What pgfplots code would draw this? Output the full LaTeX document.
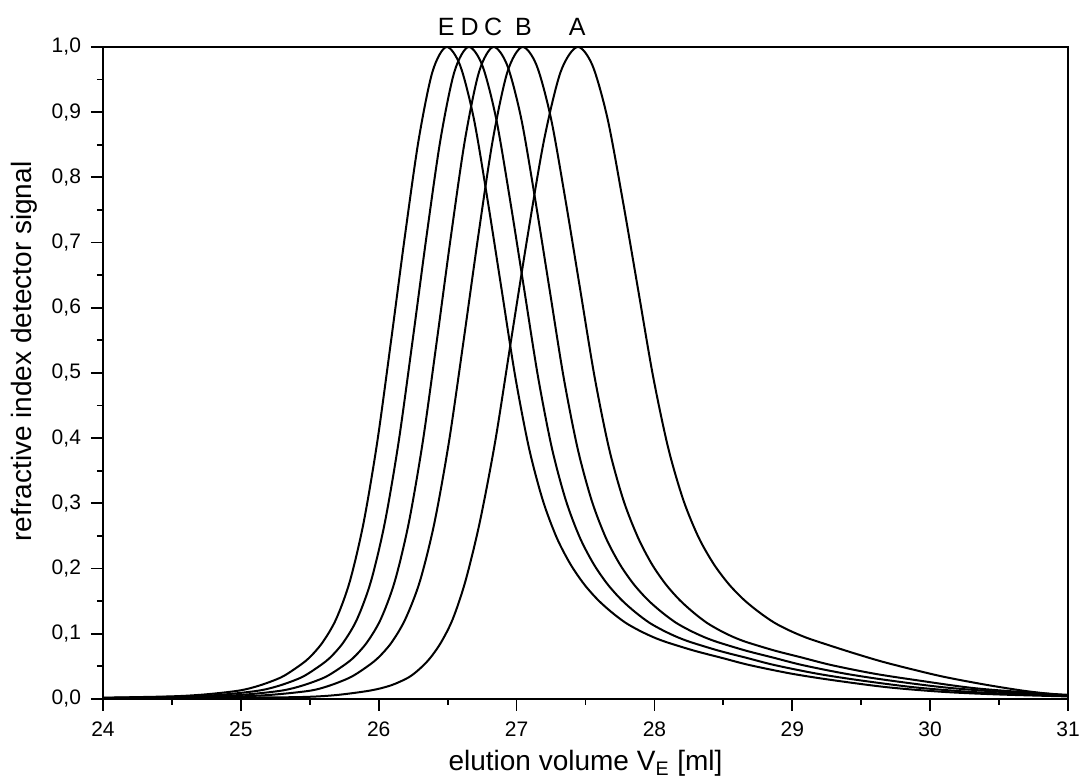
\documentclass[border=0pt]{standalone}
\usepackage{fontspec}
\setmainfont{Liberation Sans}
\usepackage{pgfplots}
\usepackage{pgfplotstable}
\pgfplotsset{compat=1.18}
\tikzset{curve/.style={black, line width=1pt, smooth, mark=none},
  xtl/.style={font=\fontsize{10.5}{12}\selectfont, anchor=base, yshift=-19pt},
  pkl/.style={font=\fontsize{12.5}{15}\selectfont, anchor=base, yshift=5.5pt}}

\pgfplotstableread{
x y
23.49 0.001
23.99 0.002
24.49 0.004
24.74 0.007
24.99 0.013
25.14 0.021
25.29 0.033
25.39 0.046
25.49 0.062
25.59 0.086
25.69 0.122
25.79 0.180
25.89 0.270
25.99 0.395
26.09 0.550
26.19 0.710
26.29 0.858
26.39 0.962
26.49 1.000
26.59 0.972
26.69 0.890
26.79 0.765
26.89 0.630
26.99 0.495
27.09 0.385
27.19 0.305
27.29 0.248
27.39 0.207
27.49 0.176
27.59 0.152
27.69 0.133
27.79 0.117
27.89 0.105
27.99 0.095
28.09 0.087
28.29 0.074
28.49 0.063
28.69 0.052
28.99 0.039
29.29 0.029
29.69 0.018
30.09 0.011
30.49 0.007
30.99 0.004
31.49 0.002
}\curveE

\pgfplotstableread{
x y
23.620 0.001
24.125 0.002
24.630 0.004
24.883 0.007
25.135 0.013
25.287 0.021
25.438 0.033
25.539 0.046
25.640 0.062
25.741 0.086
25.842 0.122
25.943 0.180
26.044 0.270
26.145 0.395
26.246 0.550
26.347 0.710
26.448 0.858
26.549 0.962
26.650 1.000
26.751 0.972
26.852 0.890
26.953 0.765
27.054 0.630
27.155 0.495
27.256 0.385
27.357 0.305
27.458 0.248
27.559 0.207
27.660 0.176
27.761 0.152
27.862 0.133
27.963 0.117
28.064 0.105
28.165 0.095
28.266 0.087
28.468 0.074
28.670 0.063
28.872 0.052
29.175 0.039
29.478 0.029
29.882 0.018
30.286 0.011
30.690 0.007
31.195 0.004
}\curveD

\pgfplotstableread{
x y
23.770 0.001
24.280 0.002
24.790 0.004
25.045 0.007
25.300 0.013
25.453 0.021
25.606 0.033
25.708 0.046
25.810 0.062
25.912 0.086
26.014 0.122
26.116 0.180
26.218 0.270
26.320 0.395
26.422 0.550
26.524 0.710
26.626 0.858
26.728 0.962
26.830 1.000
26.932 0.972
27.034 0.890
27.136 0.765
27.238 0.630
27.340 0.495
27.442 0.385
27.544 0.305
27.646 0.248
27.748 0.207
27.850 0.176
27.952 0.152
28.054 0.133
28.156 0.117
28.258 0.105
28.360 0.095
28.462 0.087
28.666 0.074
28.870 0.063
29.074 0.052
29.380 0.039
29.686 0.029
30.094 0.018
30.502 0.011
30.910 0.006
31.420 0.003
}\curveC

\pgfplotstableread{
x y
23.500 0.0005
23.980 0.001
24.490 0.002
25.000 0.004
25.255 0.007
25.510 0.013
25.650 0.021
25.792 0.033
25.891 0.046
25.990 0.062
26.091 0.086
26.192 0.122
26.298 0.180
26.404 0.270
26.510 0.395
26.616 0.550
26.722 0.710
26.828 0.858
26.934 0.962
27.040 1.000
27.145 0.972
27.250 0.890
27.355 0.765
27.460 0.630
27.565 0.495
27.670 0.385
27.775 0.305
27.880 0.248
27.981 0.207
28.082 0.176
28.182 0.152
28.281 0.133
28.379 0.117
28.476 0.105
28.573 0.095
28.672 0.087
28.876 0.074
29.080 0.063
29.284 0.052
29.590 0.039
29.896 0.029
30.304 0.017
30.712 0.010
31.120 0.005
}\curveB

\pgfplotstableread{
x y
23.500 0.000
24.440 0.001
24.940 0.002
25.440 0.003
25.690 0.006
25.940 0.013
26.090 0.021
26.216 0.033
26.296 0.046
26.370 0.062
26.450 0.086
26.536 0.122
26.628 0.180
26.732 0.270
26.845 0.395
26.960 0.550
27.080 0.710
27.200 0.858
27.320 0.962
27.440 1.000
27.550 0.972
27.660 0.890
27.770 0.765
27.880 0.630
27.990 0.495
28.100 0.385
28.210 0.305
28.320 0.248
28.430 0.207
28.540 0.176
28.650 0.152
28.760 0.133
28.870 0.117
28.980 0.105
29.090 0.095
29.200 0.087
29.420 0.072
29.640 0.058
29.860 0.046
30.100 0.034
30.400 0.022
30.700 0.012
31.000 0.005
}\curveA

\begin{document}
\begin{tikzpicture}
\begin{axis}[
  at={(0,0)}, anchor=south west,
  scale only axis, width=482.5pt, height=326pt,
  xmin=24, xmax=31, ymin=0, ymax=1,
  xtick={24,25,26,27,28,29,30,31},
  xticklabels={},
  ytick={0,0.1,0.2,0.3,0.4,0.5,0.6,0.7,0.8,0.9,1},
  minor x tick num=1, minor y tick num=1,
  tick pos=left, tick align=outside,
  major tick length=6pt, minor tick length=3pt,
  every tick/.style={black, line width=0.9pt},
  axis line style={line width=1pt},
  yticklabel={\pgfmathprintnumber[assume math mode=true,fixed,fixed zerofill,precision=1,use comma]{\tick}},
  yticklabel style={font=\fontsize{10.5}{12}\selectfont},
  yticklabel shift=1.5pt,
  xlabel={elution volume V\textsubscript{E} [ml]},
  ylabel={refractive index detector signal},
  label style={font=\fontsize{14}{16}\selectfont},
  xlabel style={at={(axis description cs:0.5,-0.110)}, anchor=base},
  ylabel style={at={(axis description cs:-0.0746,0.533)}, anchor=base},
  clip mode=individual,
]
\addplot[curve] table[x=x,y=y] {\curveE};
\addplot[curve] table[x=x,y=y] {\curveD};
\addplot[curve] table[x=x,y=y] {\curveC};
\addplot[curve] table[x=x,y=y] {\curveB};
\addplot[curve] table[x=x,y=y] {\curveA};
\node[xtl] at (axis cs:24,0) {24};
\node[xtl] at (axis cs:25,0) {25};
\node[xtl] at (axis cs:26,0) {26};
\node[xtl] at (axis cs:27,0) {27};
\node[xtl] at (axis cs:28,0) {28};
\node[xtl] at (axis cs:29,0) {29};
\node[xtl] at (axis cs:30,0) {30};
\node[xtl] at (axis cs:31,0) {31};
\node[pkl] at (axis cs:26.49,1) {E};
\node[pkl] at (axis cs:26.66,1) {D};
\node[pkl] at (axis cs:26.83,1) {C};
\node[pkl] at (axis cs:27.05,1) {B};
\node[pkl] at (axis cs:27.44,1) {A};
\end{axis}
\pgfresetboundingbox
\path[use as bounding box] (-51.5pt,-40.5pt) rectangle (490pt,349.5pt);
\end{tikzpicture}
\end{document}
